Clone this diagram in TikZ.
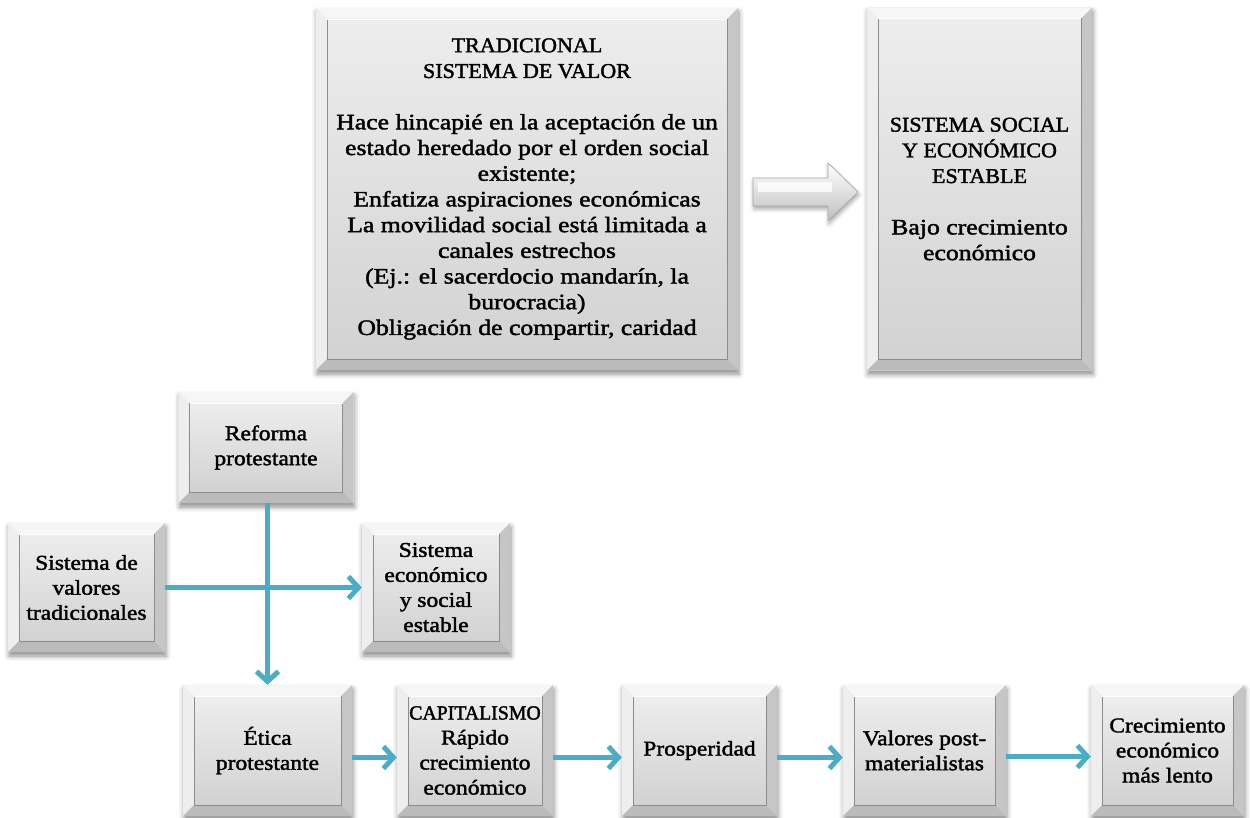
\documentclass[tikz,border=0pt]{standalone}
\usepackage{fontspec}
\setmainfont[FakeStretch=1.12,FakeBold=1.8]{Liberation Serif}
\newfontfamily\bigf[FakeStretch=1.17,FakeBold=1.8]{Liberation Serif}
\newfontfamily\capn[FakeStretch=1.05,FakeBold=1.8]{Liberation Serif}
\newfontfamily\capf[FakeStretch=0.99,FakeBold=1.8]{Liberation Serif}
\usetikzlibrary{arrows.meta,shadows.blur}
\definecolor{frameC}{HTML}{E4E4E4}
\definecolor{bvTop}{HTML}{F6F6F6}
\definecolor{bvLeft}{HTML}{EEEEEE}
\definecolor{bvRight}{HTML}{C6C6C6}
\definecolor{bvBot}{HTML}{BBBBBB}
\definecolor{faceT}{HTML}{EDEDED}
\definecolor{faceB}{HTML}{D2D2D2}
\definecolor{edgeC}{HTML}{8C8C8C}
\definecolor{connC}{HTML}{4BACC6}
\newcommand\bxfont{\fontsize{21}{25}\selectfont}
\newcommand\bigfont{\bigf\fontsize{22}{25.7}\selectfont}
\newcommand\capline[1]{{\capn\fontsize{21}{25.7}\selectfont #1}}
\tikzset{
  bvl/.style={rectangle, inner sep=0pt, align=center, font=\bxfont,
    fill=frameC,
    blur shadow={shadow xshift=1pt, shadow yshift=-4pt, shadow blur radius=5pt, shadow opacity=45},
    path picture={
      \coordinate (NW) at (path picture bounding box.north west);
      \coordinate (NE) at (path picture bounding box.north east);
      \coordinate (SW) at (path picture bounding box.south west);
      \coordinate (SE) at (path picture bounding box.south east);
      \fill[bvTop] (NW) -- (NE) -- ([shift={(-11pt,-11pt)}]NE) -- ([shift={(11pt,-11pt)}]NW) -- cycle;
      \fill[bvLeft] (NW) -- (SW) -- ([shift={(11pt,11pt)}]SW) -- ([shift={(11pt,-11pt)}]NW) -- cycle;
      \fill[bvRight] (NE) -- (SE) -- ([shift={(-11pt,11pt)}]SE) -- ([shift={(-11pt,-11pt)}]NE) -- cycle;
      \fill[bvBot] (SW) -- (SE) -- ([shift={(-11pt,11pt)}]SE) -- ([shift={(11pt,11pt)}]SW) -- cycle;
      \shade[top color=faceT, bottom color=faceB] ([shift={(11pt,-11pt)}]NW) rectangle ([shift={(-11pt,11pt)}]SE);
      \draw[edgeC, line width=0.9pt] ([shift={(11pt,-11pt)}]NW) -- ([shift={(11pt,11pt)}]SW) -- ([shift={(-11pt,11pt)}]SE) -- ([shift={(-11pt,-11pt)}]NE);
      \draw[white, line width=0.8pt] ([shift={(11pt,-11pt)}]NW) -- ([shift={(-11pt,-11pt)}]NE);
    }},
  bigbox/.style={bvl, font=\bigfont},
  conn/.style={draw=connC, line width=5pt, -{Straight Barb[length=10pt,width=22pt]}},
  blockarrow/.style={top color=white, bottom color=black!25, draw=black!35, line width=0.6pt,
    blur shadow={shadow xshift=1pt, shadow yshift=-3pt, shadow blur radius=4pt, shadow opacity=35}},
}
\begin{document}
\begin{tikzpicture}[x=1pt,y=-1pt]
\useasboundingbox (0,0) rectangle (1250,818);
% top row
\node[bigbox, minimum width=422pt, minimum height=362pt] (trad) at (527,189)
  {\capline{TRADICIONAL}\\\capline{SISTEMA DE VALOR}\\[25.7pt]Hace hincapié en la aceptación de un\\estado heredado por el orden social\\existente;\\Enfatiza aspiraciones económicas\\La movilidad social está limitada a\\canales estrechos\\(Ej.: el sacerdocio mandarín, la\\burocracia)\\Obligación de compartir, caridad};
\node[bigbox, minimum width=225pt, minimum height=363pt] (soc) at (979.5,189)
  {\capline{SISTEMA SOCIAL}\\\capline{Y ECONÓMICO}\\\capline{ESTABLE}\\[25.7pt]Bajo crecimiento\\económico};
% block arrow between the two top boxes
\shadedraw[blockarrow] (753,178) -- (828,178) -- (828,163) -- (858,192) -- (828,221) -- (828,206) -- (753,206) -- cycle;
\fill[white, opacity=0.8] (758,182) -- (832,182) -- (832,192) -- (758,192) -- cycle;
% middle
\node[bvl, minimum width=175pt, minimum height=111pt] (ref) at (266,447.5) {Reforma\\protestante};
\node[bvl, minimum width=157pt, minimum height=129pt] (stv) at (86.5,587.5) {Sistema de\\valores\\tradicionales};
\node[bvl, minimum width=148pt, minimum height=129pt] (sec) at (436,587.5) {Sistema\\económico\\y social\\estable};
% bottom row
\node[bvl, minimum width=169pt, minimum height=131pt] (eti) at (267.5,750.5) {Ética\\protestante};
\node[bvl, minimum width=156pt, minimum height=131pt] (cap) at (475,750.5) {{\capf\fontsize{20}{25}\selectfont CAPITALISMO}\\Rápido\\crecimiento\\económico};
\node[bvl, minimum width=155pt, minimum height=131pt] (pro) at (699.5,750.5) {Prosperidad};
\node[bvl, minimum width=163pt, minimum height=131pt] (val) at (924.5,750.5) {Valores post-\\materialistas};
\node[bvl, minimum width=153pt, minimum height=131pt] (cre) at (1167.5,750.5) {Crecimiento\\económico\\más lento};
% connectors
\draw[conn] (stv.east) -- (sec.west);
\draw[conn] (ref.south -| eti.north) -- (eti.north);
\draw[conn] ([yshift=-7pt]eti.east) -- ([yshift=-7pt]cap.west);
\draw[conn] ([yshift=-7pt]cap.east) -- ([yshift=-7pt]pro.west);
\draw[conn] ([yshift=-7pt]pro.east) -- ([yshift=-7pt]val.west);
\draw[conn] ([yshift=-6pt]val.east) -- ([yshift=-6pt]cre.west);
\end{tikzpicture}
\end{document}
